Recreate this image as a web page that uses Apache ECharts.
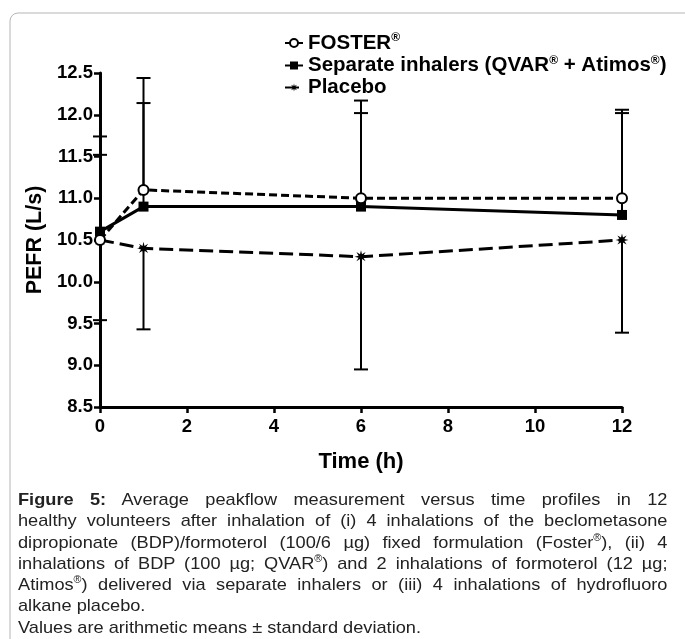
<!DOCTYPE html>
<html>
<head>
<meta charset="utf-8">
<script src="https://cdn.jsdelivr.net/npm/echarts@6/dist/echarts.min.js"></script>
<style>
  html, body { margin: 0; padding: 0; background: #fff; }
  #main { position: absolute; left: 0; top: 0; width: 685px; height: 639px; }
  #caption { position: absolute; left: 18px; top: 489px; width: 607px;
    transform: scaleX(1.07); transform-origin: 0 0;
    font-family: "Liberation Sans", Arial, sans-serif; font-size: 17px; line-height: 21.3px; color: #222; }
  #caption .j { text-align: justify; text-align-last: justify; white-space: nowrap; }
  #caption .l { text-align: left; white-space: nowrap; }
  #caption sup { font-size: 10px; line-height: 0; }
</style>
</head>
<body>
<div id="main"></div>
<div id="caption">
  <div class="j"><b>Figure 5:</b> Average peakflow measurement versus time profiles in 12</div>
  <div class="j">healthy volunteers after inhalation of (i) 4 inhalations of the beclometasone</div>
  <div class="j">dipropionate (BDP)/formoterol (100/6 µg) fixed formulation (Foster<sup>®</sup>), (ii) 4</div>
  <div class="j">inhalations of BDP (100 µg; QVAR<sup>®</sup>) and 2 inhalations of formoterol (12 µg;</div>
  <div class="j">Atimos<sup>®</sup>) delivered via separate inhalers or (iii) 4 inhalations of hydrofluoro</div>
  <div class="l">alkane placebo.</div>
  <div class="l">Values are arithmetic means ± standard deviation.</div>
</div>
<script>
(function(){
  var myChart = echarts.init(document.getElementById('main'));

  // time points (h)
  var times = [0, 1, 6, 12];
  // means
  var fosterMean = [10.5, 11.1, 11.0, 11.0];
  var separateMean = [10.6, 10.9, 10.9, 10.8];
  var placeboMean = [10.5, 10.4, 10.3, 10.5];
  // error bar ends (mean + SD up / mean - SD down)
  var fosterUpper = [11.74, 12.44, 12.17, 12.06];
  var separateUpper = [11.52, 12.14, 12.02, 12.02];
  var placeboLower = [9.54, 9.43, 8.95, 9.39];

  var seriesNames = ['FOSTER', 'Separate', 'Placebo'];
  var legendText = {
    'FOSTER': '{b|FOSTER}{s|®}',
    'Separate': '{b|Separate inhalers (QVAR}{s|®}{b| + Atimos}{s|®}{b|)}',
    'Placebo': '{b|Placebo}'
  };

  // asterisk marker
  function starPath(n, ro, ri) {
    var s = 'path://';
    for (var i = 0; i < 2 * n; i++) {
      var a = i * Math.PI / n - Math.PI / 2;
      var r = (i % 2) ? ri : ro;
      s += (i === 0 ? 'M' : 'L') + (r * Math.cos(a)).toFixed(2) + ' ' + (r * Math.sin(a)).toFixed(2) + ' ';
    }
    return s + 'Z';
  }
  var asterisk = starPath(8, 10, 4);

  function pairs(ys) {
    var res = [];
    for (var i = 0; i < times.length; i++) res.push([times[i], ys[i]]);
    return res;
  }
  function errPairs(mean, end) {
    var res = [];
    for (var i = 0; i < times.length; i++) res.push([times[i], mean[i], end[i]]);
    return res;
  }

  function renderErr(params, api) {
    var x = api.value(0);
    var p1 = api.coord([x, api.value(1)]);
    var p2 = api.coord([x, api.value(2)]);
    var w = 7;
    return {
      type: 'group',
      children: [
        { type: 'line', shape: { x1: p1[0], y1: p1[1], x2: p2[0], y2: p2[1] }, style: { stroke: '#000', lineWidth: 2 } },
        { type: 'line', shape: { x1: p2[0] - w, y1: p2[1], x2: p2[0] + w, y2: p2[1] }, style: { stroke: '#000', lineWidth: 2 } }
      ]
    };
  }

  var font = '"Liberation Sans", Arial, sans-serif';

  var option = {
    animation: false,
    backgroundColor: '#fff',
    graphic: [{
      type: 'rect',
      shape: { x: 10, y: 13, width: 720, height: 700, r: 8 },
      style: { fill: 'none', stroke: '#b5b5b5', lineWidth: 1 },
      silent: true
    }],
    legend: {
      data: seriesNames,
      orient: 'vertical',
      left: 279,
      top: 27,
      itemWidth: 18,
      itemHeight: 10,
      itemGap: 1,
      formatter: function(name) { return legendText[name]; },
      textStyle: {
        color: '#000',
        rich: {
          b: { fontFamily: font, fontWeight: 'bold', fontSize: 20.5, lineHeight: 22, color: '#000' },
          s: { fontFamily: font, fontWeight: 'bold', fontSize: 12, lineHeight: 22, verticalAlign: 'top', color: '#000' }
        }
      }
    },
    grid: {
      left: 100,
      right: 63,
      top: 73,
      bottom: 232,
      containLabel: false
    },
    xAxis: {
      type: 'value',
      min: 0,
      max: 12,
      interval: 2,
      name: 'Time (h)',
      nameLocation: 'middle',
      nameGap: 44,
      nameTextStyle: { fontFamily: font, fontWeight: 'bold', fontSize: 22, color: '#000' },
      axisLine: { onZero: false, lineStyle: { color: '#000', width: 3 } },
      axisTick: { show: true, length: 6, lineStyle: { color: '#000', width: 2.5 } },
      axisLabel: { fontFamily: font, fontWeight: 'bold', fontSize: 18.5, color: '#000', margin: 10 },
      splitLine: { show: false }
    },
    yAxis: {
      type: 'value',
      min: 8.5,
      max: 12.5,
      interval: 0.5,
      name: 'PEFR (L/s)',
      nameLocation: 'middle',
      nameGap: 52,
      nameTextStyle: { fontFamily: font, fontWeight: 'bold', fontSize: 21.5, color: '#000' },
      axisLine: { show: true, onZero: false, lineStyle: { color: '#000', width: 3 } },
      axisTick: { show: true, length: 6, lineStyle: { color: '#000', width: 2.5 } },
      axisLabel: {
        fontFamily: font, fontWeight: 'bold', fontSize: 18.5, color: '#000', margin: 7,
        formatter: function(v) { return v.toFixed(1); }
      },
      splitLine: { show: false }
    },
    series: [
      {
        name: 'FOSTER_err', type: 'custom', renderItem: renderErr, z: 1,
        data: errPairs(fosterMean, fosterUpper), silent: true
      },
      {
        name: 'Separate_err', type: 'custom', renderItem: renderErr, z: 1,
        data: errPairs(separateMean, separateUpper), silent: true
      },
      {
        name: 'Placebo_err', type: 'custom', renderItem: renderErr, z: 1,
        data: errPairs(placeboMean, placeboLower), silent: true
      },
      {
        name: 'Placebo', type: 'line', z: 3,
        data: pairs(placeboMean),
        symbol: asterisk, symbolSize: 13,
        lineStyle: { color: '#000', width: 3, type: [14, 6] },
        itemStyle: { color: '#000' }
      },
      {
        name: 'Separate', type: 'line', z: 4,
        data: pairs(separateMean),
        symbol: 'rect', symbolSize: 10,
        lineStyle: { color: '#000', width: 3 },
        itemStyle: { color: '#000' }
      },
      {
        name: 'FOSTER', type: 'line', z: 5,
        data: pairs(fosterMean),
        symbol: 'circle', symbolSize: 10,
        lineStyle: { color: '#000', width: 3, type: [8, 4] },
        itemStyle: { color: '#fff', borderColor: '#000', borderWidth: 2 }
      }
    ]
  };

  myChart.setOption(option);
  window.addEventListener('resize', function() {
    myChart.resize();
  });
})();
</script>
</body>
</html>
